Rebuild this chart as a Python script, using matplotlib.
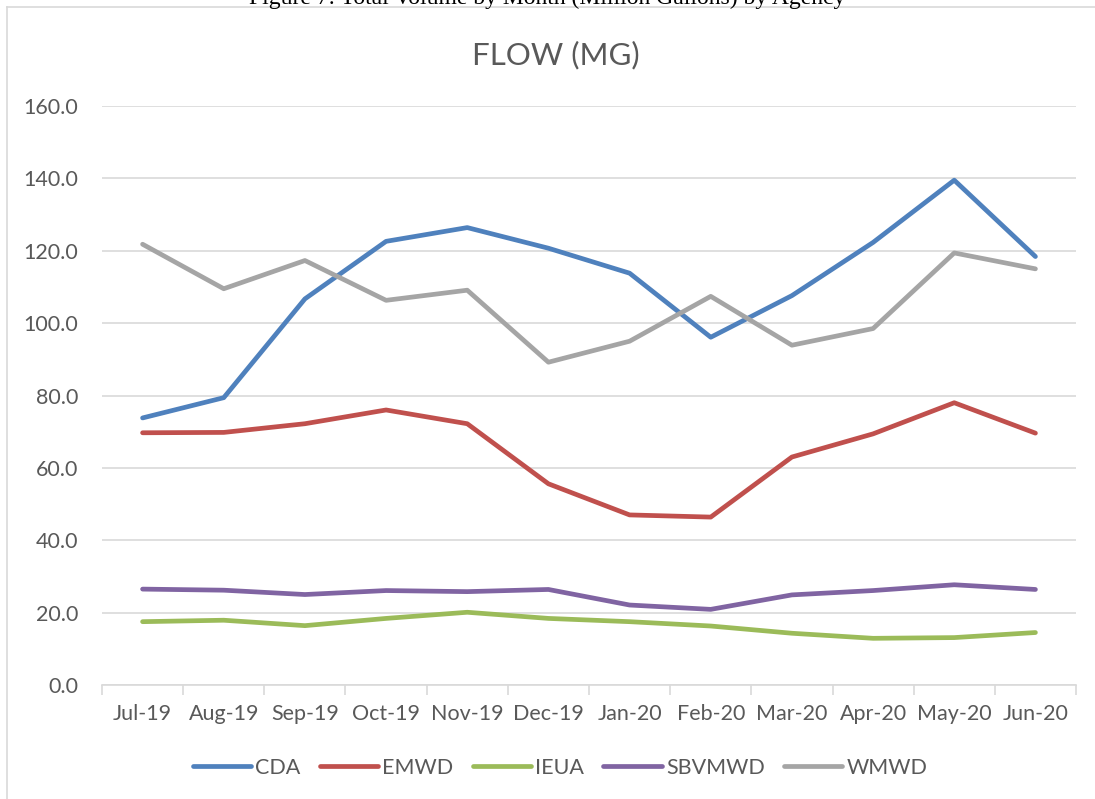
import matplotlib
matplotlib.use("Agg")
import matplotlib.pyplot as plt
from matplotlib.lines import Line2D

months = ["Jul-19", "Aug-19", "Sep-19", "Oct-19", "Nov-19", "Dec-19",
          "Jan-20", "Feb-20", "Mar-20", "Apr-20", "May-20", "Jun-20"]
cda = [73.8, 79.4, 106.7, 122.6, 126.4, 120.7, 113.8, 96.1, 107.6, 122.3, 139.5, 118.4]
emwd = [69.7, 69.8, 72.2, 76.0, 72.2, 55.6, 47.0, 46.4, 63.0, 69.4, 78.0, 69.6]
ieua = [17.5, 17.9, 16.4, 18.4, 20.1, 18.4, 17.5, 16.3, 14.3, 12.9, 13.1, 14.5]
sbvmwd = [26.5, 26.2, 25.0, 26.1, 25.8, 26.4, 22.1, 20.9, 24.9, 26.1, 27.7, 26.4]
wmwd = [121.8, 109.5, 117.3, 106.3, 109.1, 89.2, 95.0, 107.4, 93.9, 98.5, 119.4, 115.0]
series_names = ["CDA", "EMWD", "IEUA", "SBVMWD", "WMWD"]
yticks = [0, 20, 40, 60, 80, 100, 120, 140, 160]

colors = ["#4f81bd", "#c0504d", "#9bbb59", "#8064a2", "#a5a5a5"]
font = "Lato"
txt = "#595959"

W, H = 1095, 799
fig = plt.figure(figsize=(W / 100, H / 100), dpi=100)
ax = fig.add_axes([102 / W, 1 - 685 / H, (1076 - 102) / W, (685 - 106) / H])

x = list(range(len(months)))
for name, vals, c in zip(series_names, [cda, emwd, ieua, sbvmwd, wmwd], colors):
    ax.plot(x, vals, color=c, lw=3.4, solid_capstyle="round",
            solid_joinstyle="round", label=name)

ax.set_xlim(-0.5, len(months) - 0.5)
ax.set_ylim(0, 160)
ax.set_yticks(yticks)
ax.set_yticklabels([f"{v:.1f}" for v in yticks], fontsize=15.5, color=txt, family=font)
ax.set_xticks(x)
ax.set_xticklabels(months, fontsize=15.5, color=txt, family=font)
ax.tick_params(axis="y", length=0, pad=17)
ax.tick_params(axis="x", length=0, pad=14)
# boundary tick marks
ax.set_xticks([i - 0.5 for i in range(len(months) + 1)], minor=True)
ax.tick_params(axis="x", which="minor", length=7, width=1.2, color="#d9d9d9")
ax.grid(axis="y", color="#d9d9d9", lw=1.2)
ax.set_axisbelow(True)
for s in ["top", "right", "left"]:
    ax.spines[s].set_visible(False)
ax.spines["bottom"].set_color("#d9d9d9")
ax.spines["bottom"].set_linewidth(1.2)

fig.text(556 / W, 1 - 55 / H, "FLOW (MG)", ha="center", va="center",
         fontsize=22.5, color=txt, family=font)

fig.text(0.5, 1 - 4 / H, "Figure 7: Total Volume by Month (Million Gallons) by Agency",
         ha="center", va="baseline", fontsize=17, family="Liberation Serif", color="black")

# chart border
fig.add_artist(Line2D([7 / W, 1.0], [1 - 7 / H, 1 - 7 / H], color="#d9d9d9", lw=1.2))
fig.add_artist(Line2D([7 / W, 7 / W], [1 - 7 / H, 0], color="#d9d9d9", lw=1.2))

leg = fig.legend(loc="center", bbox_to_anchor=(560 / W, 1 - 768 / H), ncol=5,
                 frameon=False, handlelength=2.7, columnspacing=0.9,
                 handletextpad=0.2, prop={"family": font, "size": 15.5})
for t in leg.get_texts():
    t.set_color(txt)

fig.savefig("out.png", dpi=100)
